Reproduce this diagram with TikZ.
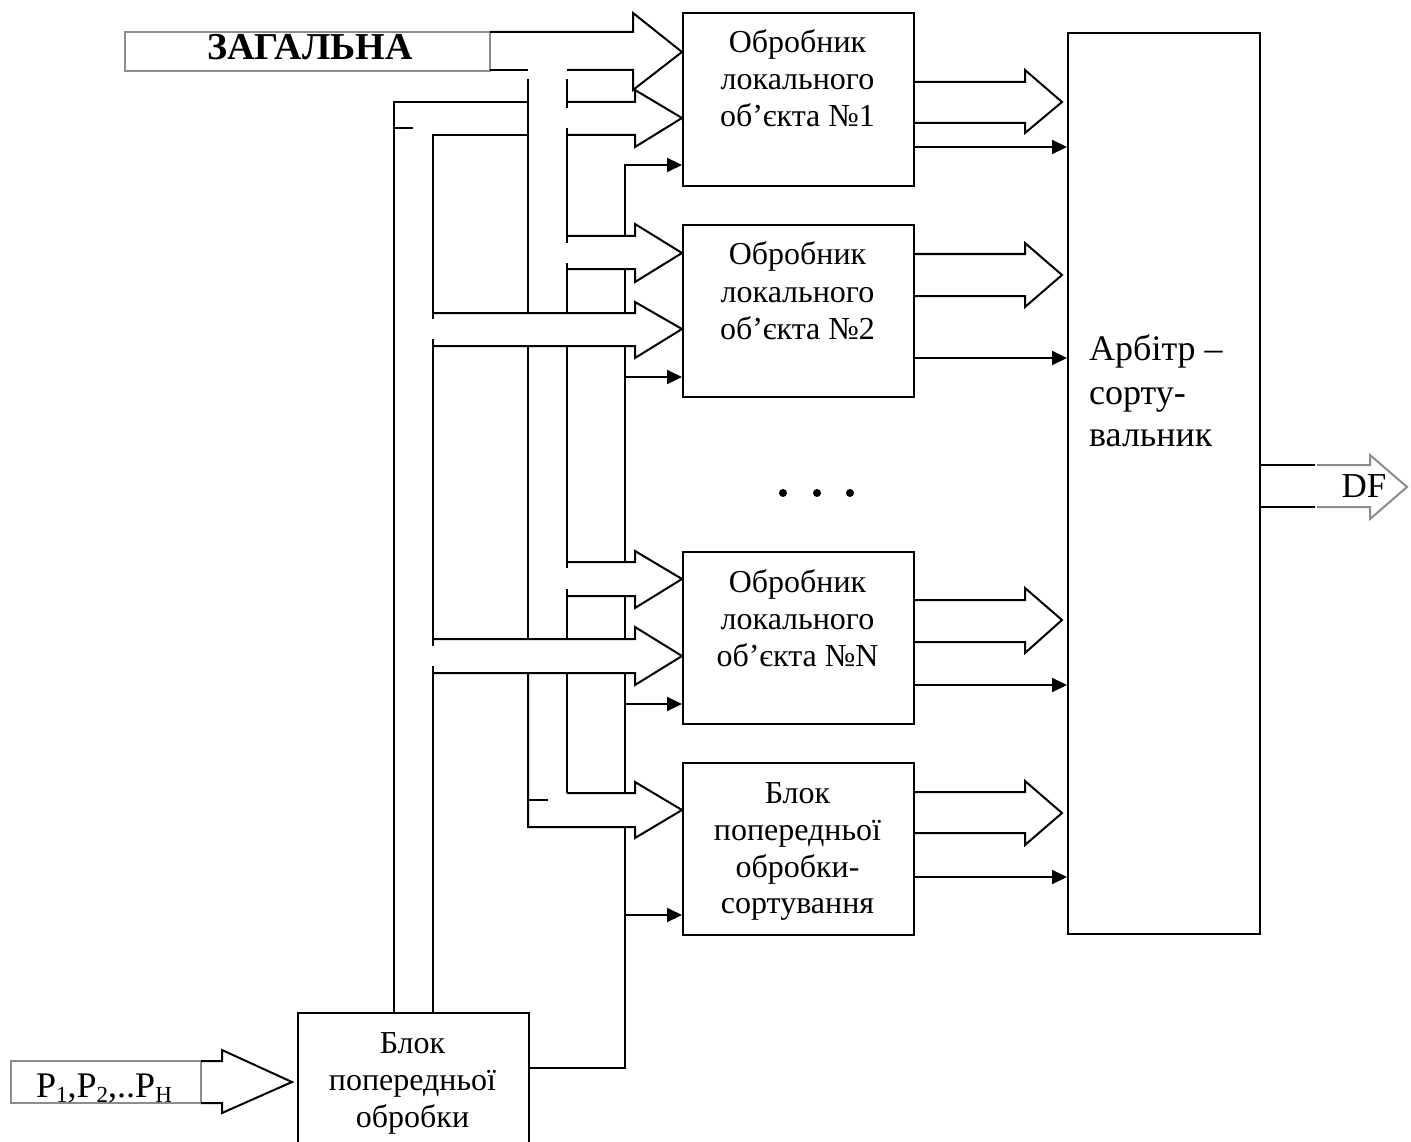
\documentclass[tikz,border=0pt]{standalone}
\usepackage{fontspec}
\setmainfont{Liberation Serif}
\usetikzlibrary{arrows.meta}
\definecolor{bxg}{RGB}{140,140,140}
\begin{document}
\begin{tikzpicture}[x=1pt,y=-1pt,
  ln/.style={line width=2pt, line join=miter, line cap=butt},
  box/.style={draw, line width=2pt, inner sep=0pt, anchor=north west},
  gbox/.style={draw=bxg, line width=2pt},
  fa/.style={line width=2pt, -{Triangle[length=15pt,width=14pt]}},
  tx/.style={font=\fontsize{32}{37}\selectfont, inner sep=0pt, anchor=base},
  tl/.style={font=\fontsize{36}{41}\selectfont, inner sep=0pt, anchor=base west},
]
\useasboundingbox (0,0) rectangle (1411,1142);
\clip (0,0) rectangle (1411,1142);

% ---------- boxes ----------
\node[box, minimum width=231pt, minimum height=173pt] (b1) at (682,12) {};
\node[box, minimum width=231pt, minimum height=172pt] (b2) at (682,224) {};
\node[box, minimum width=231pt, minimum height=172pt] (bN) at (682,551) {};
\node[box, minimum width=231pt, minimum height=172pt] (b4) at (682,762) {};
\node[box, minimum width=192pt, minimum height=901pt] (arb) at (1067,32) {};
\node[box, minimum width=231pt, minimum height=170pt] (pre) at (297,1012) {};

% ---------- box texts ----------
\node[tx] (t1a) at (797.5,53) {Обробник};
\node[tx] (t1b) at (797.5,90) {локального};
\node[tx] (t1c) at (797.5,127) {об’єкта №1};
\node[tx] (t2a) at (797.5,265) {Обробник};
\node[tx] (t2b) at (797.5,302) {локального};
\node[tx] (t2c) at (797.5,339) {об’єкта №2};
\node[tx] (tNa) at (797.5,592) {Обробник};
\node[tx] (tNb) at (797.5,629) {локального};
\node[tx] (tNc) at (797.5,666) {об’єкта №N};
\node[tx] (t4a) at (797.5,803) {Блок};
\node[tx] (t4b) at (797.5,840) {попередньої};
\node[tx] (t4c) at (797.5,877) {обробки-};
\node[tx] (t4d) at (797.5,913) {сортування};
\node[tx] (tpa) at (412.5,1053) {Блок};
\node[tx] (tpb) at (412.5,1090) {попередньої};
\node[tx] (tpc) at (412.5,1127) {обробки};
\node[tl] (taa) at (1089,360) {Арбітр –};
\node[tl] (tab) at (1089,404) {сорту-};
\node[tl] (tac) at (1089,446) {вальник};

% dots
\fill (783,493) circle (4pt);
\fill (817,493) circle (4pt);
\fill (850,493) circle (4pt);

% ---------- ЗАГАЛЬНА input ----------
\draw[gbox] (125,32) rectangle (490,71);
\node[font=\fontsize{38}{40}\selectfont\bfseries, inner sep=0pt, anchor=base] (zag) at (310,60) {ЗАГАЛЬНА};
\draw[ln] (490,32) -- (633,32) -- (633,13) -- (682,52) -- (633,90) -- (633,70) -- (567,70);
\draw[ln] (490,70) -- (528,70);
% bus outer line x=528
\draw[ln] (528,79) -- (528,313);
\draw[ln] (528,346) -- (528,639);
\draw[ln] (528,673) -- (528,827) -- (635,827) -- (635,838) -- (682,810) -- (635,782) -- (635,793) -- (567,793);
\draw[ln] (528,800) -- (548,800);
% bus inner line x=567
\draw[ln] (567,79) -- (567,108);
\draw[ln] (567,128) -- (567,243);
\draw[ln] (567,263) -- (567,313);
\draw[ln] (567,346) -- (567,568);
\draw[ln] (567,589) -- (567,639);
\draw[ln] (567,673) -- (567,793);
% branches from the bus
\draw[ln] (567,236) -- (635,236) -- (635,224) -- (682,253) -- (635,282) -- (635,269) -- (567,269);
\draw[ln] (567,562) -- (635,562) -- (635,551) -- (682,579) -- (635,608) -- (635,596) -- (567,596);

% ---------- bus from the pre-processing block ----------
\draw[ln] (394,1012) -- (394,102) -- (528,102);
\draw[ln] (394,128) -- (413,128);
\draw[ln] (433,1012) -- (433,666);
\draw[ln] (433,646) -- (433,339);
\draw[ln] (433,319) -- (433,135) -- (528,135);
\draw[ln] (567,102) -- (635,102) -- (635,90) -- (682,118) -- (635,147) -- (635,135) -- (567,135);
\draw[ln] (433,313) -- (635,313) -- (635,302) -- (682,329) -- (635,358) -- (635,346) -- (433,346);
\draw[ln] (433,639) -- (635,639) -- (635,627) -- (682,656) -- (635,685) -- (635,673) -- (433,673);

% ---------- control line x=625 ----------
\draw[ln] (528,1068) -- (625,1068) -- (625,827);
\draw[ln] (625,793) -- (625,673);
\draw[ln] (625,639) -- (625,596);
\draw[ln] (625,562) -- (625,346);
\draw[ln] (625,313) -- (625,269);
\draw[fa] (625,236) -- (625,165) -- (682,165);
\draw[fa] (625,377) -- (682,377);
\draw[fa] (625,704) -- (682,704);
\draw[fa] (625,915) -- (682,915);

% ---------- outputs to arbiter ----------
\draw[ln] (913,82) -- (1025,82) -- (1025,70) -- (1062,102) -- (1025,133) -- (1025,123) -- (913,123);
\draw[fa] (913,147) -- (1067,147);
\draw[ln] (913,254) -- (1025,254) -- (1025,243) -- (1062,275) -- (1025,307) -- (1025,296) -- (913,296);
\draw[fa] (913,358) -- (1067,358);
\draw[ln] (913,600) -- (1025,600) -- (1025,588) -- (1062,620) -- (1025,653) -- (1025,642) -- (913,642);
\draw[fa] (913,685) -- (1067,685);
\draw[ln] (913,792) -- (1025,792) -- (1025,781) -- (1062,813) -- (1025,845) -- (1025,833) -- (913,833);
\draw[fa] (913,877) -- (1067,877);

% ---------- DF output ----------
\draw[ln] (1259,465) -- (1315,465);
\draw[ln] (1259,507) -- (1315,507);
\draw[ln, draw=bxg] (1317,465) -- (1370,465) -- (1370,455) -- (1407,487) -- (1370,519) -- (1370,507) -- (1317,507);
\node[font=\fontsize{35}{38}\selectfont, inner sep=0pt, anchor=base] (df) at (1364,497) {DF};

% ---------- P input ----------
\draw[gbox] (11,1061) rectangle (201,1103);
\draw[ln] (201,1061) -- (222,1061) -- (222,1050) -- (292,1082) -- (222,1113) -- (222,1103) -- (201,1103);
\node[font=\fontsize{36}{40}\selectfont, inner sep=0pt, anchor=base west] (pin) at (36,1097)
  {P\raisebox{-5pt}{\fontsize{23}{23}\selectfont 1},P\raisebox{-5pt}{\fontsize{23}{23}\selectfont 2},..P\raisebox{-5pt}{\fontsize{23}{23}\selectfont H}};
\end{tikzpicture}
\end{document}
